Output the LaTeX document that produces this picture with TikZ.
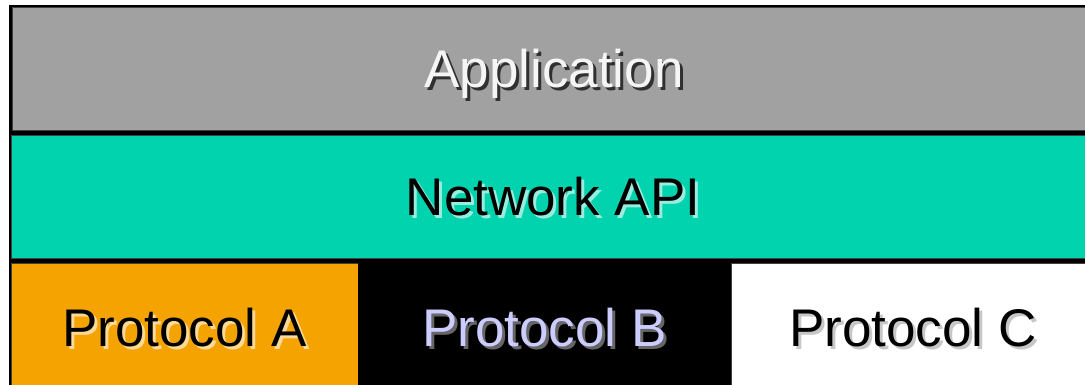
\documentclass[tikz,border=0pt]{standalone}
\usepackage{fontspec}
\setmainfont{Liberation Sans}
\usepackage{xcolor}
\definecolor{appgray}{HTML}{A1A1A1}
\definecolor{apiteal}{HTML}{00D3AE}
\definecolor{protoorange}{HTML}{F4A300}
\definecolor{protolilac}{HTML}{CCCCFF}
\newcommand{\shadowed}[2]{\rlap{\hspace{3pt}\raisebox{-3pt}{\color{#1}#2}}#2}

\begin{document}
\begin{tikzpicture}[x=1pt,y=-1pt,
    layer/.style={draw=black!75,line width=0.8pt,inner sep=0pt,
      text height=38pt,text depth=0pt,font=\fontsize{53}{62}\selectfont}]
  \useasboundingbox (0,0) rectangle (1085,384);
  \clip (0,0) rectangle (1085,384);
  \fill[black] (9,5) rectangle (1100,400);
  \node[layer,fill=appgray,minimum width=1084pt,minimum height=123pt,text=white!96!black] (app) at (554,68.5) {\shadowed{black!70!appgray}{Application}};
  \node[layer,fill=apiteal,minimum width=1084pt,minimum height=123pt,text=black] (api) at (553,196.5) {\shadowed{white!60!apiteal}{Network API}};
  \node[layer,fill=protoorange,minimum width=347pt,minimum height=129pt,text=black] (protoa) at (184.5,327.5) {\shadowed{white!60!protoorange}{Protocol A}};
  \node[layer,fill=black,draw=black,minimum width=373pt,minimum height=129pt,text=protolilac] (protob) at (544.5,327.5) {\shadowed{white!40!black}{Protocol B}};
  \node[layer,fill=white,minimum width=364pt,minimum height=129pt,text=black] (protoc) at (913,327.5) {\shadowed{black!22}{Protocol C}};
\end{tikzpicture}
\end{document}
